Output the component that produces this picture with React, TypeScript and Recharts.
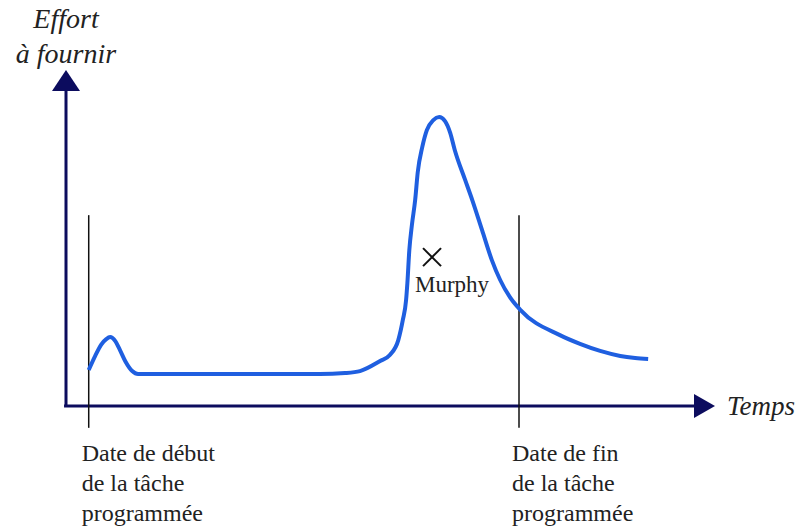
import React from "react";
import { LineChart, Line, XAxis, YAxis, ReferenceLine, ReferenceDot } from "recharts";

// effort curve, time and effort in arbitrary units (0-100)
const curveTime = [
  3.5, 4.5, 5.4, 6.2, 6.8, 7.6, 8.3, 9.2, 10.2, 11.1, 20.6, 39.1, 43.0, 45.3, 48.4,
  49.9, 51.2, 51.9, 52.4, 52.6, 52.9, 53.3, 53.8, 54.2, 54.9, 55.6, 56.6, 57.5, 58.4,
  59.2, 59.9, 61.5, 62.6, 64.1, 65.6, 66.9, 68.4, 70.0, 76.1, 79.2, 82.3, 85.4,
  87.7, 89.7,
];
const curveEffort = [
  10.7, 14.9, 18.2, 19.9, 20.5, 19.3, 16.7, 13.1, 10.4, 9.5, 9.5, 9.5, 9.8, 10.4, 13.4,
  15.2, 19.6, 25.6, 31.5, 36.6, 46.4, 53.9, 61.3, 69.6, 77.1, 82.1, 85.1, 86.0, 84.8,
  81.3, 76.2, 67.3, 61.3, 52.4, 43.5, 37.5, 32.4, 28.6, 21.1, 18.5, 16.4, 14.9,
  14.3, 14.0,
];

const taskStart = 3.5;
const taskEnd = 69.8;
const markerTop = 56.8;
const markerBottom = -6.5;
const murphyTime = 56.4;
const murphyEffort = 44.3;

const startLabel = ["Date de début", "de la tâche", "programmée"];
const endLabel = ["Date de fin", "de la tâche", "programmée"];
const yTitle = ["Effort", "à fournir"];
const xTitle = "Temps";
const murphyText = "Murphy";

const data = curveTime.map((t, i) => ({ t, effort: curveEffort[i] }));

const AXIS = "#0c0c5e";
const FONT = "'Liberation Serif', 'Times New Roman', serif";

const dateLabel = (lines: string[]) => (p: any) => (
  <g>
    {lines.map((s, i) => (
      <text key={i} x={p.cx - 7} y={p.cy + 55 + i * 30} fontFamily={FONT} fontSize={24} fill="#222">
        {s}
      </text>
    ))}
  </g>
);

export default function App() {
  return (
    <div style={{ position: "absolute", left: 0, top: 0, background: "#fff" }}>
      <LineChart
        width={805}
        height={532}
        data={data}
        margin={{ top: 70, right: 90, bottom: 126, left: 66 }}
      >
        <XAxis type="number" dataKey="t" domain={[0, 100]} hide />
        <YAxis type="number" domain={[0, 100]} hide />
        {/* axes drawn as segments so the arrows meet them */}
        <ReferenceLine
          segment={[{ x: -0.3, y: 0 }, { x: 98, y: 0 }]}
          ifOverflow="visible"
          stroke={AXIS}
          strokeWidth={3}
        />
        <ReferenceLine
          segment={[{ x: 0, y: 0 }, { x: 0, y: 96 }]}
          ifOverflow="visible"
          stroke={AXIS}
          strokeWidth={3}
        />
        <ReferenceLine
          segment={[{ x: taskStart, y: markerBottom }, { x: taskStart, y: markerTop }]}
          ifOverflow="visible"
          stroke="#111"
          strokeWidth={1.5}
        />
        <ReferenceLine
          segment={[{ x: taskEnd, y: markerBottom }, { x: taskEnd, y: markerTop }]}
          ifOverflow="visible"
          stroke="#111"
          strokeWidth={1.5}
        />
        <Line
          type="monotone"
          dataKey="effort"
          stroke="#1f5fe0"
          strokeWidth={4}
          dot={false}
          isAnimationActive={false}
        />
        {/* x axis arrow + title */}
        <ReferenceDot
          x={100}
          y={0}
          ifOverflow="visible"
          shape={(p: any) => (
            <g>
              <polygon points={`${p.cx},${p.cy} ${p.cx - 21},${p.cy - 12} ${p.cx - 21},${p.cy + 12}`} fill={AXIS} />
              <text x={p.cx + 12} y={p.cy + 9} fontFamily={FONT} fontStyle="italic" fontSize={27} fill="#222">
                {xTitle}
              </text>
            </g>
          )}
        />
        {/* y axis arrow + title */}
        <ReferenceDot
          x={0}
          y={100}
          ifOverflow="visible"
          shape={(p: any) => (
            <g>
              <polygon points={`${p.cx},${p.cy} ${p.cx - 14},${p.cy + 21} ${p.cx + 14},${p.cy + 21}`} fill={AXIS} />
              {yTitle.map((s, i) => (
                <text key={i} x={p.cx} y={p.cy - 42 + i * 35} textAnchor="middle" fontFamily={FONT} fontStyle="italic" fontSize={28} fill="#222">
                  {s}
                </text>
              ))}
            </g>
          )}
        />
        <ReferenceDot x={taskStart} y={0} ifOverflow="visible" shape={dateLabel(startLabel)} />
        <ReferenceDot x={taskEnd} y={0} ifOverflow="visible" shape={dateLabel(endLabel)} />
        <ReferenceDot
          x={murphyTime}
          y={murphyEffort}
          ifOverflow="visible"
          shape={(p: any) => (
            <g>
              <line x1={p.cx - 9} y1={p.cy - 9} x2={p.cx + 9} y2={p.cy + 9} stroke="#111" strokeWidth={2} />
              <line x1={p.cx - 9} y1={p.cy + 9} x2={p.cx + 9} y2={p.cy - 9} stroke="#111" strokeWidth={2} />
              <text x={p.cx + 20} y={p.cy + 35} textAnchor="middle" fontFamily={FONT} fontSize={23} fill="#222">
                {murphyText}
              </text>
            </g>
          )}
        />
      </LineChart>
    </div>
  );
}
